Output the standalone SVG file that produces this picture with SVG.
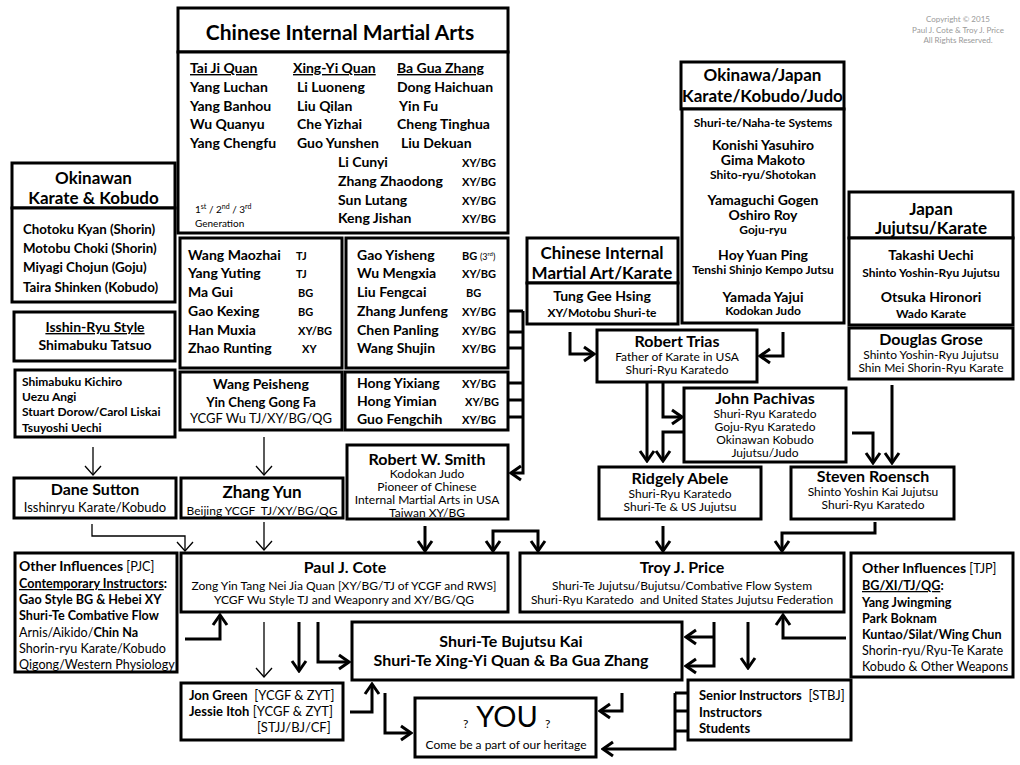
<svg xmlns="http://www.w3.org/2000/svg" width="1020" height="765" viewBox="0 0 1020 765">
<defs>
<marker id="ah" viewBox="-12 -9 14 18" refX="0" refY="0" markerWidth="14" markerHeight="18" markerUnits="userSpaceOnUse" orient="auto-start-reverse"><path d="M-10,-7 L0,0 L-10,7" fill="none" stroke="#000" stroke-width="3"/></marker>
<marker id="at" viewBox="-10 -10 12 20" refX="0" refY="0" markerWidth="12" markerHeight="20" markerUnits="userSpaceOnUse" orient="auto"><path d="M-9,-8 L0,0 L-9,8" fill="none" stroke="#000" stroke-width="1.3"/></marker>
<style>
rect{fill:#fff;stroke:#000;stroke-width:3}
text{font-family:Lato,"Liberation Sans",sans-serif;fill:#000}
.b{font-weight:bold}
.c{text-anchor:middle}
.h1{font-size:21px;font-weight:bold}
.h2{font-size:17px;font-weight:bold}
.n{font-size:14px;font-weight:bold}
.n15{font-size:16px;font-weight:bold}
.s{font-size:12px;font-weight:bold}
.sx{font-size:11px;font-weight:bold}
.r12{font-size:12px;font-weight:normal}
.r13{font-size:13px;font-weight:normal}
.o{font-size:12.6px}
.u{text-decoration:underline}
.k path{fill:none;stroke:#000;stroke-width:3}
.k .t{stroke-width:1.3}
.cp{font-size:8px;fill:#999;text-anchor:middle}
</style>
</defs>
<g id="copyright">
<text class="cp" x="958" y="22">Copyright © 2015<tspan x="958" y="33">Paul J. Cote &amp; Troy J. Price</tspan><tspan x="958" y="43">All Rights Reserved.</tspan></text>
</g>
<g id="chinese-internal">
<rect x="178" y="8" width="330" height="44"/>
<text class="h1 c" x="340" y="40">Chinese Internal Martial Arts</text>
<rect x="178" y="52" width="330" height="181"/>
<text class="n u" x="190" y="73">Tai Ji Quan</text>
<text class="n u" x="293" y="73">Xing-Yi Quan</text>
<text class="n u" x="397" y="73">Ba Gua Zhang</text>
<text class="n" x="190" y="92">Yang Luchan</text>
<text class="n" x="190" y="111">Yang Banhou</text>
<text class="n" x="190" y="129">Wu Quanyu</text>
<text class="n" x="190" y="148">Yang Chengfu</text>
<text class="n" x="297" y="92">Li Luoneng</text>
<text class="n" x="297" y="111">Liu Qilan</text>
<text class="n" x="297" y="129">Che Yizhai</text>
<text class="n" x="297" y="148">Guo Yunshen</text>
<text class="n" x="397" y="92">Dong Haichuan</text>
<text class="n" x="399" y="111">Yin Fu</text>
<text class="n" x="397" y="129">Cheng Tinghua</text>
<text class="n" x="401" y="148">Liu Dekuan</text>
<text class="n" x="338" y="167">Li Cunyi</text>
<text class="n" x="338" y="186">Zhang Zhaodong</text>
<text class="n" x="338" y="205">Sun Lutang</text>
<text class="n" x="338" y="223">Keng Jishan</text>
<text class="sx" x="462" y="167">XY/BG</text>
<text class="sx" x="462" y="186">XY/BG</text>
<text class="sx" x="462" y="205">XY/BG</text>
<text class="sx" x="462" y="223">XY/BG</text>
<text x="195" y="213" font-size="10">1<tspan font-size="7" dy="-4">st</tspan><tspan dy="4"> / 2</tspan><tspan font-size="7" dy="-4">nd</tspan><tspan dy="4"> / 3</tspan><tspan font-size="7" dy="-4">rd</tspan><tspan x="195" y="227">Generation</tspan></text>
</g>
<g id="okinawa-japan">
<rect x="681" y="62" width="163" height="47"/>
<text class="h2 c" x="762.5" y="81">Okinawa/Japan<tspan x="762.5" y="102">Karate/Kobudo/Judo</tspan></text>
<rect x="682" y="109" width="162" height="214"/>
<text class="s c" x="763" y="127">Shuri-te/Naha-te Systems</text>
<text class="n c" x="763" y="150">Konishi Yasuhiro<tspan x="763" y="165">Gima Makoto</tspan><tspan class="s" x="763" y="179">Shito-ryu/Shotokan</tspan></text>
<text class="n c" x="763" y="205">Yamaguchi Gogen<tspan x="763" y="220">Oshiro Roy</tspan><tspan class="s" x="763" y="234">Goju-ryu</tspan></text>
<text class="n c" x="763" y="260">Hoy Yuan Ping<tspan class="s" x="763" y="274">Tenshi Shinjo Kempo Jutsu</tspan></text>
<text class="n c" x="763" y="302">Yamada Yajui<tspan class="s" x="763" y="315">Kodokan Judo</tspan></text>
</g>
<g id="japan">
<rect x="849" y="192" width="164" height="46"/>
<text class="h2 c" x="931" y="215">Japan<tspan x="931" y="234">Jujutsu/Karate</tspan></text>
<rect x="849" y="238" width="164" height="87"/>
<text class="n c" x="931" y="260">Takashi Uechi<tspan class="s" x="931" y="277">Shinto Yoshin-Ryu Jujutsu</tspan></text>
<text class="n c" x="931" y="302">Otsuka Hironori<tspan class="s" x="931" y="318">Wado Karate</tspan></text>
</g>
<g id="douglas-grose">
<rect x="849" y="328" width="164" height="51"/>
<text class="n15 c" x="931" y="345">Douglas Grose<tspan class="r12" x="931" y="359">Shinto Yoshin-Ryu Jujutsu</tspan><tspan class="r12" x="931" y="372">Shin Mei Shorin-Ryu Karate</tspan></text>
</g>
<g id="okinawan">
<rect x="12" y="163" width="163" height="45"/>
<text class="h2 c" font-size="17.5" x="93.5" y="184">Okinawan<tspan x="93.5" y="204">Karate &amp; Kobudo</tspan></text>
<rect x="12" y="208" width="163" height="94"/>
<text class="b" font-size="13.3" x="23" y="234">Chotoku Kyan (Shorin)</text>
<text class="b" font-size="13.3" x="23" y="253">Motobu Choki (Shorin)</text>
<text class="b" font-size="13.3" x="23" y="272">Miyagi Chojun (Goju)</text>
<text class="b" font-size="13.3" x="23" y="292">Taira Shinken (Kobudo)</text>
</g>
<g id="isshin-ryu">
<rect x="14" y="312" width="161" height="49"/>
<text class="n c u" x="95" y="332">Isshin-Ryu Style</text>
<text class="n c" x="95" y="350">Shimabuku Tatsuo</text>
</g>
<g id="isshin-students">
<rect x="15" y="370" width="160" height="67"/>
<text class="s" x="22" y="386">Shimabuku Kichiro<tspan x="22" y="401">Uezu Angi</tspan><tspan x="22" y="416">Stuart Dorow/Carol Liskai</tspan><tspan x="22" y="432">Tsuyoshi Uechi</tspan></text>
</g>
<g id="wang-maozhai">
<rect x="180" y="238" width="162" height="130"/>
<text class="n" x="188" y="260">Wang Maozhai</text>
<text class="n" x="188" y="278">Yang Yuting</text>
<text class="n" x="188" y="297">Ma Gui</text>
<text class="n" x="188" y="316">Gao Kexing</text>
<text class="n" x="188" y="335">Han Muxia</text>
<text class="n" x="188" y="353">Zhao Runting</text>
<text class="sx" x="296" y="260">TJ</text>
<text class="sx" x="296" y="278">TJ</text>
<text class="sx" x="298" y="297">BG</text>
<text class="sx" x="298" y="316">BG</text>
<text class="sx" x="298" y="335">XY/BG</text>
<text class="sx" x="302" y="353">XY</text>
</g>
<g id="gao-yisheng">
<rect x="346" y="238" width="162" height="130"/>
<text class="n" x="357" y="260">Gao Yisheng</text>
<text class="n" x="357" y="278">Wu Mengxia</text>
<text class="n" x="357" y="297">Liu Fengcai</text>
<text class="n" x="357" y="316">Zhang Junfeng</text>
<text class="n" x="357" y="335">Chen Panling</text>
<text class="n" x="357" y="353">Wang Shujin</text>
<text class="sx" x="462" y="260">BG <tspan font-weight="normal" font-size="9">(3</tspan><tspan font-weight="normal" font-size="6" dy="-4">rd</tspan><tspan font-weight="normal" font-size="9" dy="4">)</tspan></text>
<text class="sx" x="462" y="278">XY/BG</text>
<text class="sx" x="466" y="297">BG</text>
<text class="sx" x="462" y="316">XY/BG</text>
<text class="sx" x="462" y="335">XY/BG</text>
<text class="sx" x="462" y="353">XY/BG</text>
</g>
<g id="wang-peisheng">
<rect x="180" y="372" width="162" height="58"/>
<text class="n c" x="261" y="389">Wang Peisheng<tspan class="b" font-size="13" x="261" y="407">Yin Cheng Gong Fa</tspan><tspan class="r13" x="261" y="423">YCGF Wu TJ/XY/BG/QG</tspan></text>
</g>
<g id="hong-yixiang">
<rect x="345" y="372" width="163" height="58"/>
<text class="n" x="357" y="388">Hong Yixiang</text>
<text class="n" x="357" y="406">Hong Yimian</text>
<text class="n" x="357" y="424">Guo Fengchih</text>
<text class="sx" x="462" y="388">XY/BG</text>
<text class="sx" x="465" y="406">XY/BG</text>
<text class="sx" x="462" y="424">XY/BG</text>
</g>
<g id="cima-karate">
<rect x="527" y="238" width="151" height="45"/>
<text class="h2 c" x="602" y="259">Chinese Internal<tspan x="602" y="279">Martial Art/Karate</tspan></text>
<rect x="527" y="283" width="151" height="41"/>
<text class="n c" x="602" y="301">Tung Gee Hsing<tspan class="s" x="602" y="317">XY/Motobu Shuri-te</tspan></text>
</g>
<g id="robert-trias">
<rect x="597" y="330" width="160" height="52"/>
<text class="n15 c" x="677" y="347">Robert Trias<tspan class="r12" x="677" y="361">Father of Karate in USA</tspan><tspan class="r12" x="677" y="374">Shuri-Ryu Karatedo</tspan></text>
</g>
<g id="john-pachivas">
<rect x="684" y="388" width="162" height="74"/>
<text class="n15 c" x="765" y="404">John Pachivas<tspan class="r12" x="765" y="418">Shuri-Ryu Karatedo</tspan><tspan class="r12" x="765" y="431">Goju-Ryu Karatedo</tspan><tspan class="r12" x="765" y="444">Okinawan Kobudo</tspan><tspan class="r12" x="765" y="457">Jujutsu/Judo</tspan></text>
</g>
<g id="ridgely-abele">
<rect x="599" y="467" width="162" height="52"/>
<text class="n15 c" x="680" y="484">Ridgely Abele<tspan class="r12" x="680" y="498">Shuri-Ryu Karatedo</tspan><tspan class="r12" x="680" y="511">Shuri-Te &amp; US Jujutsu</tspan></text>
</g>
<g id="steven-roensch">
<rect x="791" y="467" width="163" height="52"/>
<text class="n15 c" x="873" y="482">Steven Roensch<tspan class="r12" x="873" y="496">Shinto Yoshin Kai Jujutsu</tspan><tspan class="r12" x="873" y="509">Shuri-Ryu Karatedo</tspan></text>
</g>
<g id="dane-sutton">
<rect x="14" y="478" width="162" height="40"/>
<text class="n15 c" x="95" y="495">Dane Sutton<tspan class="r13" x="95" y="512">Isshinryu Karate/Kobudo</tspan></text>
</g>
<g id="zhang-yun">
<rect x="181" y="478" width="162" height="40"/>
<text class="h2 c" font-size="16" x="262" y="498">Zhang Yun<tspan class="r12" x="262" y="515" xml:space="preserve">Beijing YCGF  TJ/XY/BG/QG</tspan></text>
</g>
<g id="robert-w-smith">
<rect x="347" y="445" width="161" height="74"/>
<text class="n15 c" x="427" y="465">Robert W. Smith<tspan class="r12" x="427" y="478">Kodokan Judo</tspan><tspan class="r12" x="427" y="491">Pioneer of Chinese</tspan><tspan class="r12" x="427" y="504">Internal Martial Arts in USA</tspan><tspan class="r12" x="427" y="517">Taiwan XY/BG</tspan></text>
</g>
<g id="paul-cote">
<rect x="181" y="553" width="327" height="59"/>
<text class="n15 c" x="345" y="573">Paul J. Cote<tspan class="r12" x="344" y="590">Zong Yin Tang Nei Jia Quan [XY/BG/TJ of YCGF and RWS]</tspan><tspan class="r12" x="344" y="604">YCGF Wu Style TJ and Weaponry and XY/BG/QG</tspan></text>
</g>
<g id="troy-price">
<rect x="520" y="553" width="324" height="59"/>
<text class="n15 c" x="682" y="573" xml:space="preserve">Troy J. Price<tspan class="r12" x="682" y="590">Shuri-Te Jujutsu/Bujutsu/Combative Flow System</tspan><tspan class="r12" x="682" y="604">Shuri-Ryu Karatedo  and United States Jujutsu Federation</tspan></text>
</g>
<g id="other-pjc">
<rect x="15" y="553" width="162" height="119"/>
<text class="o" x="19" y="571"><tspan class="b" font-size="14">Other Influences</tspan> [PJC]<tspan class="b" x="19" y="588"><tspan class="u">Contemporary Instructors</tspan>:</tspan><tspan class="b" x="19" y="604">Gao Style BG &amp; Hebei XY</tspan><tspan class="b" x="19" y="620">Shuri-Te Combative Flow</tspan><tspan x="19" y="637">Arnis/Aikido/<tspan class="b">Chin Na</tspan></tspan><tspan x="19" y="653">Shorin-ryu Karate/Kobudo</tspan><tspan x="19" y="669">Qigong/Western Physiology</tspan></text>
</g>
<g id="other-tjp">
<rect x="851" y="553" width="162" height="124"/>
<text class="o" x="862" y="573"><tspan class="b" font-size="14">Other Influences</tspan> [TJP]<tspan class="b" x="862" y="590"><tspan class="u">BG/XI/TJ/QG</tspan>:</tspan><tspan class="b" x="862" y="607">Yang Jwingming</tspan><tspan class="b" x="862" y="623">Park Boknam</tspan><tspan class="b" x="862" y="639">Kuntao/Silat/Wing Chun</tspan><tspan x="862" y="655">Shorin-ryu/Ryu-Te Karate</tspan><tspan x="862" y="671">Kobudo &amp; Other Weapons</tspan></text>
</g>
<g id="shuri-te-bujutsu-kai">
<rect x="352" y="622" width="330" height="58"/>
<text class="n15 c" x="511" y="647">Shuri-Te Bujutsu Kai<tspan x="511" y="666">Shuri-Te Xing-Yi Quan &amp; Ba Gua Zhang</tspan></text>
</g>
<g id="jon-green">
<rect x="181" y="683" width="162" height="57"/>
<text class="r13" x="189" y="700" xml:space="preserve"><tspan class="b">Jon Green</tspan>  [YCGF &amp; ZYT]<tspan x="189" y="716"><tspan class="b">Jessie Itoh</tspan> [YCGF &amp; ZYT]</tspan><tspan x="257" y="732">[STJJ/BJ/CF]</tspan></text>
</g>
<g id="you">
<rect x="415" y="698" width="181" height="59"/>
<text class="r12" x="463" y="728">?</text>
<text class="c" font-size="29" x="507" y="727">YOU</text>
<text class="r12" x="545" y="728">?</text>
<text class="r12 c" x="506" y="749">Come be a part of our heritage</text>
</g>
<g id="senior-instructors">
<rect x="688" y="680" width="163" height="60"/>
<text class="r13" x="699" y="700" xml:space="preserve"><tspan class="b">Senior Instructors</tspan>  [STBJ]<tspan class="b" x="699" y="717">Instructors</tspan><tspan class="b" x="699" y="733">Students</tspan></text>
</g>
<g id="connectors" class="k">
<path d="M508,311 H523 M508,332 H523 M508,348 H523 M508,383 H523 M508,400 H523 M508,417 H523"/>
<path d="M523,311 V473 H511" marker-end="url(#ah)"/>
<path d="M570,332 V354 H594" marker-end="url(#ah)"/>
<path d="M783,332 V356 H760" marker-end="url(#ah)"/>
<path d="M647,383 V461" marker-end="url(#ah)"/>
<path d="M663,383 V417 H682" marker-end="url(#ah)"/>
<path d="M684,432 H663 V461" marker-end="url(#ah)"/>
<path d="M852,433 H873 V463" marker-end="url(#ah)"/>
<path d="M892,385 V463" marker-end="url(#ah)"/>
<path d="M663,526 V551" marker-end="url(#ah)"/>
<path d="M875,522 V533 H782 V551" marker-end="url(#ah)"/>
<path d="M425,526 V551" marker-end="url(#ah)"/>
<path d="M493,551 V531 H538 V551" marker-start="url(#ah)" marker-end="url(#ah)"/>
<path d="M185,639 H220 V615" marker-end="url(#ah)"/>
<path d="M846,638 H783 V615" marker-end="url(#ah)"/>
<path d="M299,622 V671" marker-end="url(#ah)"/>
<path d="M318,622 V662 H349" marker-end="url(#ah)"/>
<path d="M714,622 V666 H686" marker-end="url(#ah)"/>
<path d="M714,637 H686" marker-end="url(#ah)"/>
<path d="M748,622 V668" marker-end="url(#ah)"/>
<path d="M350,712 H372 V684" marker-end="url(#ah)"/>
<path d="M385,693 V733 H411" marker-end="url(#ah)"/>
<path d="M622,693 V711 H600" marker-end="url(#ah)"/>
<path d="M688,693 H675 M688,711 H675 M688,731 H675"/>
<path d="M675,693 V749 H603" marker-end="url(#ah)"/>
<path class="t" d="M264,622 V677" marker-end="url(#at)"/>
<path class="t" d="M93,447 V475" marker-end="url(#at)"/>
<path class="t" d="M264,437 V475" marker-end="url(#at)"/>
<path class="t" d="M92,524 V536 H185 V551" marker-end="url(#at)"/>
<path class="t" d="M264,522 V550" marker-end="url(#at)"/>
</g>
</svg>
